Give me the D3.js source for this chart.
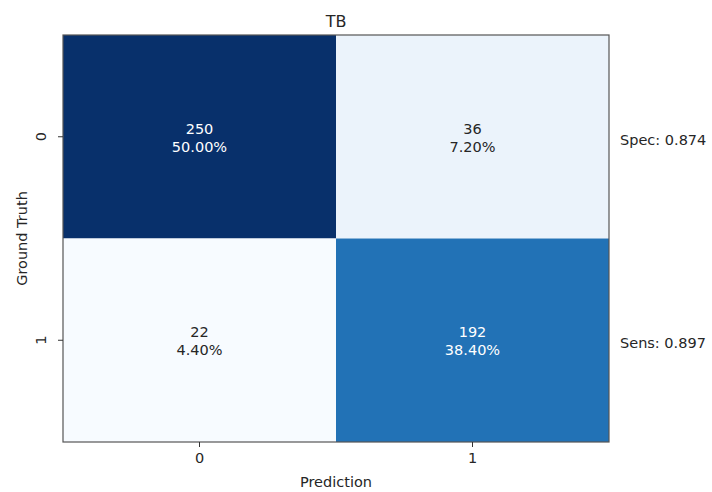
<!DOCTYPE html>
<html>
<head>
<meta charset="utf-8">
<script src="https://cdn.jsdelivr.net/npm/d3@7"></script>
<style>
  html, body { margin: 0; padding: 0; background: #fff; }
  svg text { font-family: "DejaVu Sans", sans-serif; }
</style>
</head>
<body>
<svg id="chart" width="712" height="492"></svg>
<script>
// Confusion matrix for the TB classifier
const title = "TB";
const predLabels = ["0", "1"];
const truthLabels = ["0", "1"];
const counts = [
  [250, 36],
  [22, 192]
];
const sideLabels = ["Spec: 0.874", "Sens: 0.897"];

const W = 712, H = 492;
const FS = 14.5;
const margin = { left: 63, right: 103, top: 35, bottom: 50 };
const svg = d3.select("#chart");

const total = d3.sum(counts.flat());
const cells = [];
counts.forEach((row, r) => row.forEach((v, c) => cells.push({ r, c, v })));

const x = d3.scaleBand().domain(predLabels).range([margin.left, W - margin.right]);
const y = d3.scaleBand().domain(truthLabels).range([margin.top, H - margin.bottom]);

// Matplotlib-style "Blues" ramp
const bluesStops = ["#f7fbff", "#deebf7", "#c6dbef", "#9ecae1", "#6baed6",
                    "#4292c6", "#2171b5", "#08519c", "#08306b"];
const ramp = d3.scaleLinear()
  .domain(d3.range(bluesStops.length).map(i => i / (bluesStops.length - 1)))
  .range(bluesStops)
  .interpolate(d3.interpolateRgb);
const vmin = d3.min(cells, d => d.v), vmax = d3.max(cells, d => d.v);
const norm = d3.scaleLinear().domain([vmin, vmax]).range([0, 1]);
const color = v => ramp(norm(v));

svg.append("g").selectAll("rect").data(cells).join("rect")
  .attr("x", d => x(predLabels[d.c]))
  .attr("y", d => y(truthLabels[d.r]))
  .attr("width", x.bandwidth())
  .attr("height", y.bandwidth())
  .attr("fill", d => color(d.v));

// Cell annotations: count and share of total
const ann = svg.append("g").selectAll("text").data(cells).join("text")
  .attr("text-anchor", "middle")
  .attr("font-size", FS)
  .attr("fill", d => norm(d.v) > 0.5 ? "#ffffff" : "#262626");
ann.append("tspan")
  .attr("x", d => x(predLabels[d.c]) + x.bandwidth() / 2)
  .attr("y", d => y(truthLabels[d.r]) + y.bandwidth() / 2 - 3)
  .text(d => d.v);
ann.append("tspan")
  .attr("x", d => x(predLabels[d.c]) + x.bandwidth() / 2)
  .attr("y", d => y(truthLabels[d.r]) + y.bandwidth() / 2 + 15)
  .text(d => (d.v / total * 100).toFixed(2) + "%");

// Frame
svg.append("rect")
  .attr("x", margin.left).attr("y", margin.top)
  .attr("width", W - margin.left - margin.right)
  .attr("height", H - margin.top - margin.bottom)
  .attr("fill", "none").attr("stroke", "#555").attr("stroke-width", 1.2);

// Axes
const xAxis = svg.append("g")
  .attr("transform", `translate(0,${H - margin.bottom})`)
  .call(d3.axisBottom(x).tickSize(5).tickPadding(6));
const yAxis = svg.append("g")
  .attr("transform", `translate(${margin.left},0)`)
  .call(d3.axisLeft(y).tickSize(5).tickPadding(6));
[xAxis, yAxis].forEach(a => {
  a.select(".domain").remove();
  a.selectAll(".tick line").attr("stroke", "#333");
  a.selectAll(".tick text").attr("font-size", FS).attr("fill", "#262626")
    .attr("font-family", "DejaVu Sans, sans-serif");
});
yAxis.selectAll(".tick text")
  .attr("transform", "rotate(-90)")
  .attr("x", 0).attr("dx", null).attr("dy", null)
  .attr("text-anchor", "middle")
  .attr("y", -17);

// Titles
svg.append("text")
  .attr("x", (margin.left + W - margin.right) / 2).attr("y", 27)
  .attr("text-anchor", "middle").attr("font-size", 16).attr("fill", "#262626")
  .text(title);
svg.append("text")
  .attr("x", (margin.left + W - margin.right) / 2).attr("y", 487)
  .attr("text-anchor", "middle").attr("font-size", FS).attr("fill", "#262626")
  .text("Prediction");
svg.append("text")
  .attr("transform", `translate(27,${(margin.top + H - margin.bottom) / 2}) rotate(-90)`)
  .attr("text-anchor", "middle").attr("font-size", FS).attr("fill", "#262626")
  .text("Ground Truth");

// Specificity / sensitivity beside each row
svg.append("g").selectAll("text").data(sideLabels).join("text")
  .attr("x", W - margin.right + 11)
  .attr("y", (d, i) => y(truthLabels[i]) + y.bandwidth() / 2 + 8)
  .attr("font-size", FS).attr("fill", "#262626")
  .text(d => d);
</script>
</body>
</html>
